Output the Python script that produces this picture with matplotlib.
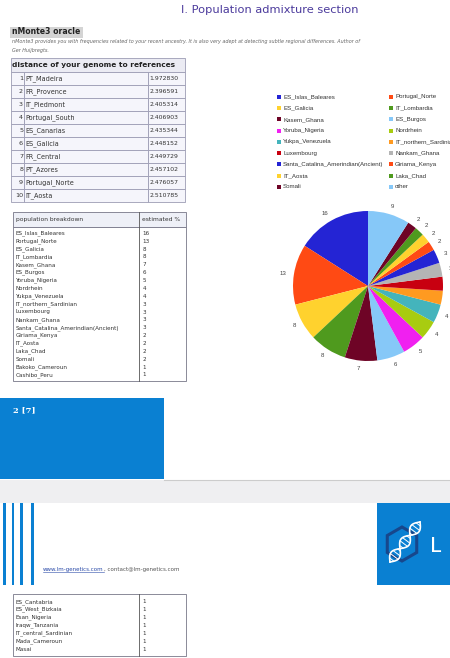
import matplotlib
matplotlib.use('Agg')
import matplotlib.pyplot as plt
from matplotlib.patches import Rectangle, RegularPolygon
import numpy as np

# datos de las tablas
dist_names = ['PT_Madeira', 'FR_Provence', 'IT_Piedmont', 'Portugal_South', 'ES_Canarias',
              'ES_Galicia', 'FR_Central', 'PT_Azores', 'Portugal_Norte', 'IT_Aosta']
dist_values = ['1.972830', '2.396591', '2.405314', '2.406903', '2.435344',
               '2.448152', '2.449729', '2.457102', '2.476057', '2.510785']

breakdown_names = ['ES_Islas_Baleares', 'Portugal_Norte', 'ES_Galicia', 'IT_Lombardia', 'Kasem_Ghana',
                   'ES_Burgos', 'Yoruba_Nigeria', 'Nordrhein', 'Yukpa_Venezuela', 'IT_northern_Sardinian',
                   'Luxembourg', 'Nankam_Ghana', 'Santa_Catalina_Amerindian(Ancient)', 'Giriama_Kenya',
                   'IT_Aosta', 'Laka_Chad', 'Somali', 'Bakoko_Cameroun', 'Cashibo_Peru']
breakdown_pct = [16, 13, 8, 8, 7, 6, 5, 4, 4, 3, 3, 3, 3, 2, 2, 2, 2, 1, 1]

extra_names = ['ES_Cantabria', 'ES_West_Bizkaia', 'Esan_Nigeria', 'Iraqw_Tanzania',
               'IT_central_Sardinian', 'Mada_Cameroun', 'Masai']
extra_pct = [1, 1, 1, 1, 1, 1, 1]

# datos del pie
pie_labels = ['ES_Islas_Baleares', 'Portugal_Norte', 'ES_Galicia', 'IT_Lombardia', 'Kasem_Ghana',
              'ES_Burgos', 'Yoruba_Nigeria', 'Nordrhein', 'Yukpa_Venezuela', 'IT_northern_Sardinian',
              'Luxembourg', 'Nankam_Ghana', 'Santa_Catalina_Amerindian(Ancient)', 'Giriama_Kenya',
              'IT_Aosta', 'Laka_Chad', 'Somali', 'other']
pie_values = [16, 13, 8, 8, 7, 6, 5, 4, 4, 3, 3, 3, 3, 2, 2, 2, 2, 9]
palette = ['#2424d4', '#ff4a14', '#ffd22e', '#4f9a1e', '#6e0426', '#86c8f8', '#f020f0',
           '#a8cc10', '#44b4bc', '#ff9a20', '#c80010', '#b4b4b4']
pie_colors = [palette[i % len(palette)] for i in range(len(pie_values))]

W, H = 450, 658
fig = plt.figure(figsize=(W / 100, H / 100), dpi=100)
ax = fig.add_axes([0, 0, 1, 1])
ax.set_xlim(0, W)
ax.set_ylim(H, 0)
ax.axis('off')

txt = '#333333'
grid = '#9c9cb4'

# titulo
ax.text(270, 10, 'I. Population admixture section', color='#4b3a9c', fontsize=8.2,
        ha='center', va='center')
ax.add_patch(Rectangle((10, 26.5), 73, 11, color='#d4d4d4', lw=0))
ax.text(12, 32, 'nMonte3 oracle', fontsize=5.6, fontweight='bold', color='#222222', va='center')
ax.text(12, 42, 'nMonte3 provides you with frequencies related to your recent ancestry. It is also very adept '
        'at detecting subtle regional differences. Author of', fontsize=3.5, style='italic',
        color='#666666', va='center')
ax.text(12, 50.5, 'Ger Huijbregts.', fontsize=3.5, style='italic', color='#666666', va='center')

# tabla de distancias
x0, x1, xn, xv = 11, 185, 24, 148
top, hdr = 57.7, 71.7
rh = (202 - hdr) / len(dist_names)
ax.add_patch(Rectangle((x0, top), x1 - x0, hdr - top, facecolor='#ebebf3', edgecolor=grid, lw=0.6))
ax.text(x0 + 1.5, (top + hdr) / 2, 'distance of your genome to references', fontsize=5.3,
        fontweight='semibold', color='#222222', va='center')
for i, (n, v) in enumerate(zip(dist_names, dist_values)):
    y = hdr + i * rh
    for a, b in [(x0, xn), (xn, xv), (xv, x1)]:
        ax.add_patch(Rectangle((a, y), b - a, rh, facecolor='#f5f5fb', edgecolor=grid, lw=0.6))
    ax.text(xn - 1, y + rh / 2, str(i + 1), fontsize=4.6, color=txt, ha='right', va='center')
    ax.text(xn + 1, y + rh / 2, n, fontsize=4.7, color=txt, va='center')
    ax.text(xv + 1.5, y + rh / 2, v, fontsize=4.4, color=txt, va='center')

# tabla de breakdown
bx0, bx1, bdiv = 12.7, 186, 139.3
btop, bhdr, bbot = 211.7, 226.7, 381
ax.add_patch(Rectangle((bx0, btop), bx1 - bx0, bhdr - btop, facecolor='#eef0f7', edgecolor='#777788', lw=0.6))
ax.add_patch(Rectangle((bx0, bhdr), bx1 - bx0, bbot - bhdr, facecolor='white', edgecolor='#777788', lw=0.6))
ax.plot([bdiv, bdiv], [btop, bbot], color='#555555', lw=0.6)
ax.text(16.5, (btop + bhdr) / 2, 'population breakdown', fontsize=4.3, color=txt, va='center')
ax.text(142.5, (btop + bhdr) / 2, 'estimated %', fontsize=4.3, color=txt, va='center')
for i, (n, p) in enumerate(zip(breakdown_names, breakdown_pct)):
    y = 233.3 + i * 7.87
    ax.text(16, y, n, fontsize=4.1, color=txt, va='center')
    ax.text(142.5, y, str(p), fontsize=4.1, color=txt, va='center')

# leyenda del pie (dos columnas, por filas)
for i, (lab, c) in enumerate(zip(pie_labels, pie_colors)):
    row, col = divmod(i, 2)
    lx = 278.5 if col == 0 else 390.5
    ly = 96.9 + row * 11.25
    ax.scatter([lx], [ly], marker='s', s=5, color=c, lw=0)
    ax.text(lx + 4.5, ly, lab, fontsize=4.4, family='Liberation Sans', color='#333333', va='center')

# pie
R = 75
cx, cy = 368, 286
pax = fig.add_axes([(cx - R) / W, (H - cy - R) / H, 2 * R / W, 2 * R / H])
wedges, texts = pax.pie(pie_values, colors=pie_colors, startangle=90, counterclock=True,
                        labels=[str(v) for v in pie_values], labeldistance=1.1,
                        wedgeprops=dict(linewidth=0),
                        textprops=dict(fontsize=4.4, color='#444444', family='Liberation Sans'))
pax.set_xlim(-1, 1)
pax.set_ylim(-1, 1)
pax.set_aspect('auto')

# caja azul de pagina
blue = '#0a80d2'
ax.add_patch(Rectangle((0, 398), 164, 81, color=blue, lw=0))
ax.text(13, 410.5, '2 [7]', fontsize=6, fontweight='bold', family='DejaVu Serif', color='white', va='center')
ax.plot([164, W], [479.5, 479.5], color='#cccccc', lw=0.8)
ax.add_patch(Rectangle((0, 480), W, 23, color='#efeff1', lw=0))

# barras verticales
for bx in [3.3, 11.7, 20.0, 31.0]:
    ax.add_patch(Rectangle((bx, 503), 2.7, 82, color=blue, lw=0))

# enlaces
t1 = ax.text(43, 569, 'www.lm-genetics.com', fontsize=4.0, color='#2a4aa8', va='center')
fig.canvas.draw()
bb = t1.get_window_extent().transformed(ax.transData.inverted())
ax.plot([bb.x0, bb.x1], [571.5, 571.5], color='#2a4aa8', lw=0.4)
ax.text(bb.x1, 569, ', contact@lm-genetics.com', fontsize=4.0, color='#555555', va='center')

# logo
ax.add_patch(Rectangle((377, 503), 73, 82, color=blue, lw=0))
ax.add_patch(RegularPolygon((402, 544), 6, radius=17, orientation=0, fill=False,
                            edgecolor='#17478c', lw=2.2))
s = np.linspace(0, 1, 80)
hx = 390 + 30 * s
hy = 562 - 40 * s
off = 4.0 * np.sin(s * 3.0 * np.pi)
ax.plot(hx + off, hy + off * 0.75, color='white', lw=1.2)
ax.plot(hx - off, hy - off * 0.75, color='white', lw=1.2)
for k in np.linspace(0.06, 0.94, 12):
    o = 4.0 * np.sin(k * 3.0 * np.pi)
    ax.plot([390 + 30 * k + o, 390 + 30 * k - o], [562 - 40 * k + o * 0.75, 562 - 40 * k - o * 0.75],
            color='white', lw=0.7)
ax.text(430, 546, 'L', fontsize=16, color='white', va='center', family='Lato')

# tabla final
ex0, ex1, edv = 12.7, 186, 139.3
etop, ebot = 594, 655.7
ax.add_patch(Rectangle((ex0, etop), ex1 - ex0, ebot - etop, facecolor='white', edgecolor='#777788', lw=0.6))
ax.plot([edv, edv], [etop, ebot], color='#555555', lw=0.6)
for i, (n, p) in enumerate(zip(extra_names, extra_pct)):
    y = 601.7 + i * 7.9
    ax.text(16, y, n, fontsize=4.1, color=txt, va='center')
    ax.text(142.5, y, str(p), fontsize=4.1, color=txt, va='center')

fig.savefig('out.png', dpi=100)
